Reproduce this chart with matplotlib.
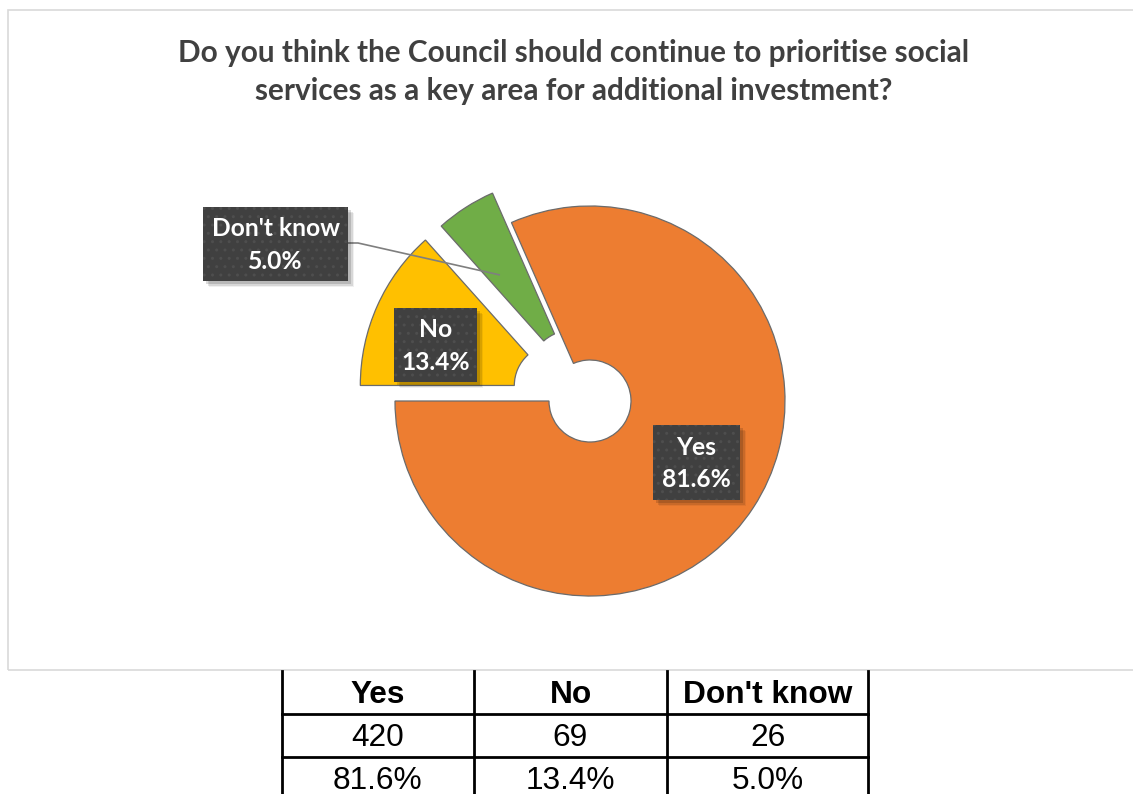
import matplotlib
matplotlib.use("Agg")
import matplotlib.pyplot as plt
from matplotlib.patches import Rectangle

categories = ['Yes', 'No', "Don't know"]
counts = [420, 69, 26]
shares = [81.6, 13.4, 5.0]
colors = ['#ED7D31', '#FFC000', '#70AD47']

title = ('Do you think the Council should continue to prioritise social\n'
         'services as a key area for additional investment?')

W, H = 1133, 794


def Y(py):
    # layout is worked out top-down in pixels, axes run bottom-up
    return H - py


fig = plt.figure(figsize=(W / 100, H / 100), dpi=100)
ax = fig.add_axes([0, 0, 1, 1])

# doughnut with a small hole, the two small answers pulled out
cx, cy, R, r_hole = 590, Y(401), 195, 41
ax.pie(shares, colors=colors, startangle=180 + 3.6 * shares[0],
       counterclock=False, explode=[0, 38, 35], radius=R, center=(cx, cy),
       wedgeprops=dict(width=R - r_hole, edgecolor='#6b6b6b', linewidth=0.9))

ax.set_xlim(0, W)
ax.set_ylim(0, H)
ax.set_aspect('equal')
ax.axis('off')

# chart area border
ax.add_patch(Rectangle((8, Y(670)), W + 20, 660, fill=False,
                       edgecolor='#d9d9d9', linewidth=1.2, zorder=1))

ax.text(574, Y(72), title, ha='center', va='center', fontsize=21.4,
        fontweight='bold', family='Lato', color='#404040', linespacing=1.42)

# leader line for the small slice
ax.plot([347, 358, 500], [Y(243), Y(243), Y(275)], color='#7f7f7f',
        linewidth=1.2, zorder=5, solid_capstyle='butt')

# data label boxes: (left, top, right, bottom) in pixels
boxes = [(653, 425, 740, 500), (394, 308, 477, 382), (203, 207, 348, 281)]
for name, pct, (x0, y0, x1, y1) in zip(categories, shares, boxes):
    w, h = x1 - x0, y1 - y0
    for k, a in [(6, 0.06), (4.5, 0.1), (3, 0.14)]:
        ax.add_patch(Rectangle((x0 + k, Y(y1) - k, ), w, h, facecolor='#000000',
                               alpha=a, linewidth=0, zorder=6))
    ax.add_patch(Rectangle((x0, Y(y1)), w, h, facecolor='#404040',
                           linewidth=0, zorder=7))
    ax.add_patch(Rectangle((x0, Y(y1)), w, h, fill=False, hatch='..',
                           edgecolor='#4e4e4e', linewidth=0, zorder=7.5))
    ax.text((x0 + x1) / 2, Y((y0 + y1) / 2 + 1), f'{name}\n{pct:.1f}%',
            ha='center', va='center', fontsize=17.7, fontweight='bold',
            family='Lato', color='white', linespacing=1.5, zorder=8)

# summary table under the chart
col_x = [281.5, 474, 667, 868]
row_y = [671, 714, 757, 800]
lw = 2.0
for x in col_x:
    ax.plot([x, x], [Y(row_y[0]), Y(row_y[-1])], color='black', linewidth=lw,
            zorder=9)
for yy in row_y[1:]:
    ax.plot([col_x[0], col_x[-1]], [Y(yy), Y(yy)], color='black',
            linewidth=lw, zorder=9)

rows = [categories, [str(c) for c in counts], [f'{s:.1f}%' for s in shares]]
for i, row in enumerate(rows):
    ty = Y((row_y[i] + row_y[i + 1]) / 2 + 2.5)
    for j, val in enumerate(row):
        tx = (col_x[j] + col_x[j + 1]) / 2
        ax.text(tx, ty, val, ha='center', va='center', fontsize=22.8,
                family='Liberation Sans',
                fontweight='bold' if i == 0 else 'normal', color='black',
                zorder=10)

fig.savefig('out.png', dpi=100, facecolor='white')
